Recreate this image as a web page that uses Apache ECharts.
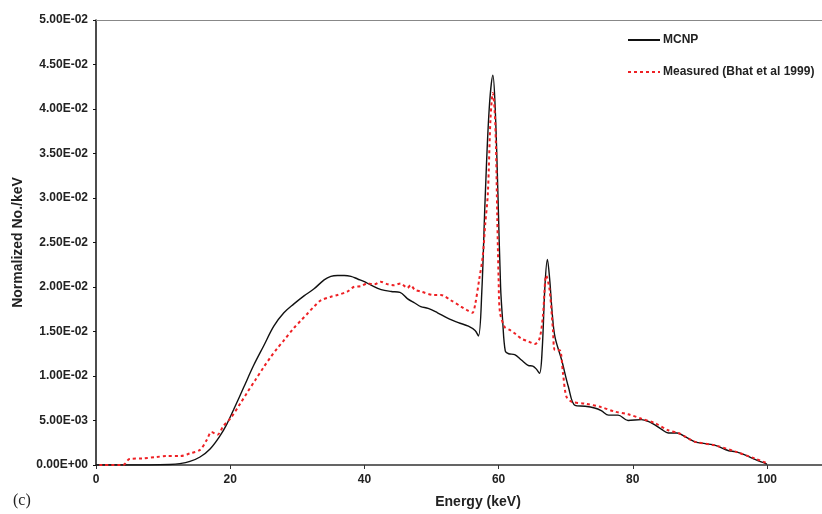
<!DOCTYPE html>
<html lang="en">
<head>
    <meta charset="UTF-8">
    <title>Spectrum</title>
    <script src="https://cdn.jsdelivr.net/npm/echarts@6/dist/echarts.min.js"></script>
    <style>
        html, body { margin: 0; padding: 0; background: #fff; }
    </style>
</head>
<body>
<div class="main" style="width: 822px;height:514px;"></div>
</body>
<script>
    // MCNP simulated spectrum (energy keV, normalized counts per keV)
    let mcnpE = [0, 4, 8, 11, 12.5, 14, 15.5, 17, 18.5, 19.5, 20.5, 22, 23.5, 25, 26.5, 28, 29.5, 31, 32.5, 34, 35, 36, 37, 38, 39, 40,
        41, 42.5, 44, 45.3, 46.4, 47.5, 48.4, 49.5, 50.9, 52.4, 54, 55.5, 56.5, 57, 57.5, 58, 58.6, 59.15, 59.5, 59.9, 60.3, 60.6,
        61, 61.5, 62.4, 63.4, 64.4, 65.1, 65.6, 66.1, 66.5, 66.9, 67.27, 67.6, 68, 68.4, 69.4, 70.4, 71.4, 72.9, 74.3, 75.3, 76.4,
        77.8, 79.3, 81.3, 82.3, 83.3, 84.3, 85.3, 86.6, 88, 89.3, 90.8, 92.3, 94.3, 95.3, 96.8, 98.3, 100];
    let mcnpV = [0, 0, 0, 0.00005, 0.00015, 0.0004, 0.0009, 0.0018, 0.0033, 0.0046, 0.0062, 0.0087, 0.0112, 0.0134, 0.0156, 0.0171,
        0.0181, 0.019, 0.0198, 0.0208, 0.0212, 0.0213, 0.0213, 0.0212, 0.0209, 0.0206, 0.0202, 0.0197, 0.0195, 0.0194, 0.0187,
        0.0182, 0.0178, 0.0176, 0.0171, 0.0165, 0.016, 0.0156, 0.0151, 0.0145, 0.0195, 0.030, 0.040, 0.0438, 0.040, 0.0305, 0.020,
        0.0163, 0.0128, 0.0125, 0.0124, 0.0118, 0.0112, 0.0111, 0.0108, 0.0103, 0.013, 0.020, 0.0231, 0.021, 0.017, 0.0144,
        0.0118, 0.0088, 0.0067, 0.0066, 0.0064, 0.0061, 0.0056, 0.0056, 0.0050, 0.0051, 0.0049, 0.0045, 0.0040, 0.0036, 0.0036,
        0.0031, 0.0026, 0.0024, 0.0022, 0.0016, 0.0015, 0.0011, 0.0006, 0.0001];

    // Measured spectrum (Bhat et al 1999)
    let measE = [0.5, 4, 5, 7, 9, 10.5, 12.5, 14, 15.5, 16.5, 17.2, 18.1, 19, 20, 21.5, 22.5, 23.7, 25, 26, 27, 28, 29.5, 30.5,
        31.5, 32.5, 33.5, 35, 36, 37.5, 38.4, 39.5, 40.4, 41.5, 42.4, 43.5, 44.4, 45.4, 46.4, 46.9, 47.5, 48.4, 50.4, 51.4, 52.9,
        54.4, 55.3, 56.1, 56.5, 57.1, 57.65, 58, 58.4, 58.8, 59.15, 59.4, 59.6, 59.8, 60, 60.2, 60.9, 61.6, 62.4, 63.4, 64.4, 65.4,
        66.1, 66.6, 67.1, 67.6, 68.1, 68.4, 69.1, 69.6, 70.1, 70.9, 72.9, 75.3, 77.3, 79.3, 81.3, 83.3, 85.3, 86.8, 88, 89.3, 92.3,
        95.3, 98.3, 100];
    let measV = [0, 0, 0.00067, 0.00075, 0.0009, 0.001, 0.001, 0.0013, 0.0017, 0.0028, 0.0037, 0.0034, 0.0044, 0.0052, 0.0069,
        0.0081, 0.0095, 0.011, 0.0121, 0.0131, 0.014, 0.0154, 0.0162, 0.017, 0.0178, 0.0185, 0.0189, 0.0191, 0.0195, 0.02, 0.0201,
        0.0204, 0.0203, 0.0206, 0.0203, 0.0202, 0.0204, 0.0199, 0.0202, 0.0197, 0.0195, 0.0191, 0.0191, 0.0185, 0.0178, 0.0174,
        0.0171, 0.018, 0.0208, 0.0235, 0.027, 0.0305, 0.039, 0.0418, 0.040, 0.0361, 0.028, 0.021, 0.0172, 0.0155, 0.0152, 0.0148,
        0.0142, 0.0139, 0.0136, 0.0142, 0.0167, 0.0213, 0.0197, 0.0152, 0.0129, 0.0129, 0.0103, 0.0077, 0.0071, 0.0069, 0.0065,
        0.006, 0.0057, 0.0052, 0.0047, 0.0039, 0.0036, 0.0031, 0.0026, 0.0022, 0.0015, 0.0007, 0.0002];

    let seriesNames = ['MCNP', 'Measured (Bhat et al 1999)'];
    let xTicks = [0, 20, 40, 60, 80, 100];

    function zip(xs, ys) {
        return xs.map((x, i) => [x, ys[i]]);
    }

    // Excel-like scientific labels: 5.00E-02
    function sci(v) {
        if (v === 0) return '0.00E+00';
        let parts = v.toExponential(2).toUpperCase().split('E');
        let exp = parseInt(parts[1], 10);
        let sign = exp < 0 ? '-' : '+';
        let abs = Math.abs(exp);
        return parts[0] + 'E' + sign + (abs < 10 ? '0' + abs : abs);
    }

    let font = 'Liberation Sans, Arial, sans-serif';
    let myChart = echarts.init(document.querySelector('.main'));

    let option = {
        backgroundColor: '#ffffff',
        animation: false,
        grid: {left: 96, right: 0, top: 20, bottom: 49},
        legend: {
            orient: 'vertical',
            left: 627,
            top: 34,
            padding: 0,
            itemWidth: 32,
            itemHeight: 12,
            itemGap: 20,
            itemStyle: {opacity: 0},
            textStyle: {fontFamily: font, fontWeight: 'bold', fontSize: 12, color: '#222', padding: [0, 0, 0, -2]},
            data: seriesNames
        },
        xAxis: [{
            type: 'value',
            min: 0,
            max: 108.2,
            name: 'Energy (keV)',
            nameLocation: 'middle',
            nameGap: 30,
            nameTextStyle: {fontFamily: font, fontWeight: 'bold', fontSize: 14, color: '#222', padding: [0, 0, 0, 38]},
            axisLine: {lineStyle: {color: '#333', width: 1.5}},
            axisTick: {length: 4, lineStyle: {color: '#333'}, customValues: xTicks},
            axisLabel: {
                margin: 9,
                fontFamily: font, fontWeight: 'bold', fontSize: 12, color: '#222',
                customValues: xTicks
            },
            splitLine: {show: false}
        }, {
            type: 'value',
            position: 'top',
            min: 0,
            max: 108.2,
            axisLine: {show: true, lineStyle: {color: '#888', width: 1}},
            axisTick: {show: false},
            axisLabel: {show: false},
            splitLine: {show: false}
        }],
        yAxis: {
            type: 'value',
            min: 0,
            max: 0.05,
            interval: 0.005,
            name: 'Normalized No./keV',
            nameLocation: 'middle',
            nameGap: 71,
            nameTextStyle: {fontFamily: font, fontWeight: 'bold', fontSize: 14, color: '#222'},
            axisLine: {show: true, lineStyle: {color: '#111', width: 1.5}},
            axisTick: {show: true, length: 3, lineStyle: {color: '#111'}},
            axisLabel: {
                margin: 8,
                fontFamily: font, fontWeight: 'bold', fontSize: 12, color: '#222',
                formatter: sci
            },
            splitLine: {show: false}
        },
        graphic: [{
            type: 'text',
            left: 13,
            top: 493,
            style: {text: '(c)', font: '16px "Liberation Serif", "Times New Roman", serif', fill: '#222'}
        }],
        series: [{
            name: seriesNames[0],
            type: 'line',
            data: zip(mcnpE, mcnpV),
            symbol: 'none',
            smooth: 0.35,
            z: 3,
            lineStyle: {color: '#111', width: 1.4},
            itemStyle: {color: '#111'}
        }, {
            name: seriesNames[1],
            type: 'line',
            data: zip(measE, measV),
            symbol: 'none',
            smooth: 0.3,
            z: 4,
            lineStyle: {color: '#ee2024', width: 2, type: [3, 3]},
            itemStyle: {color: '#ee2024'}
        }]
    };
    myChart.setOption(option);
</script>
</html>
